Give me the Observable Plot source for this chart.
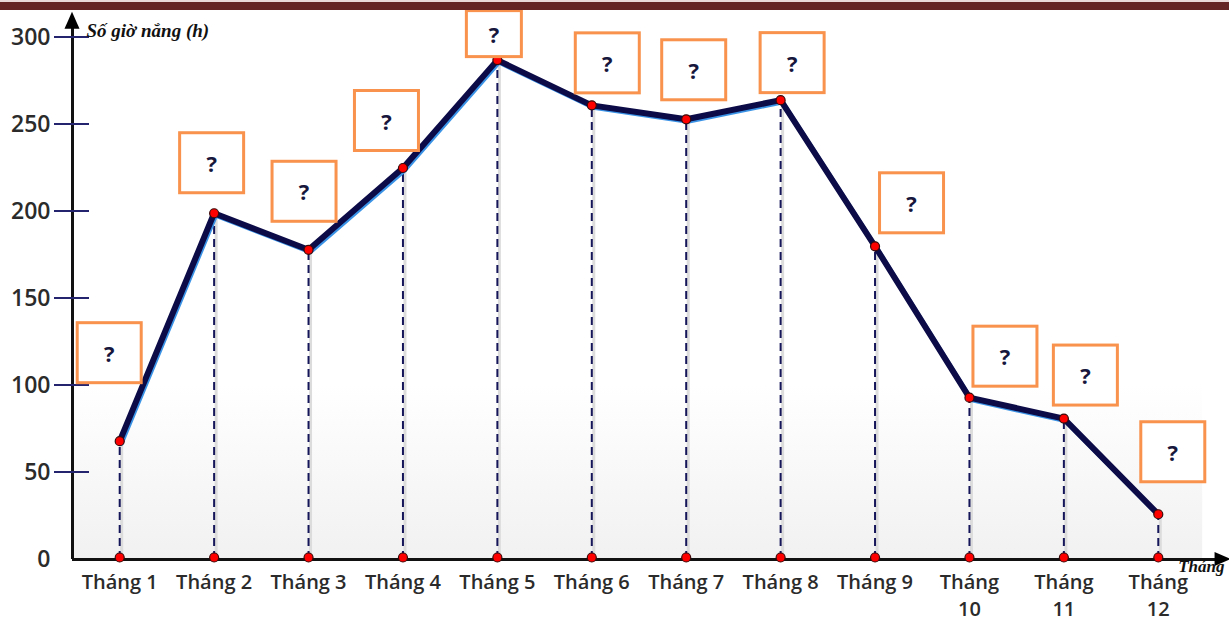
<!DOCTYPE html>
<html>
<head>
<meta charset="utf-8">
<script src="https://cdn.jsdelivr.net/npm/d3@7"></script>
<script src="https://cdn.jsdelivr.net/npm/@observablehq/plot@0.6"></script>
<style>
  html, body { margin: 0; padding: 0; background: #fff; }
  #wrap { position: relative; width: 1229px; height: 625px; overflow: hidden; }
  #band { position: absolute; left: 0; top: 0; width: 1229px; height: 8px;
          background: #632423; border-top: 2px solid #ead9d9; z-index: 2; }
  #wrap svg { position: absolute; left: 0; top: 0; }
</style>
</head>
<body>
<div id="wrap"><div id="band"></div></div>
<script>
// Monthly sunshine hours
const months = [1, 2, 3, 4, 5, 6, 7, 8, 9, 10, 11, 12];
const monthLabels = ["Tháng 1", "Tháng 2", "Tháng 3", "Tháng 4", "Tháng 5", "Tháng 6",
                     "Tháng 7", "Tháng 8", "Tháng 9", "Tháng\n10", "Tháng\n11", "Tháng\n12"];
const sunHours = [68, 199, 178, 225, 287, 261, 253, 264, 180, 93, 81, 26];
const yTicks = [0, 50, 100, 150, 200, 250, 300];
const yTitle = "Số giờ nắng (h)";
const xTitle = "Tháng";
const calloutText = "?";

// Callout boxes: centre offset from each point (px) and box size (px)
const calloutDx = [-10, -2, -4, -16, -3, 16, 8, 12, 37, 36, 22, 15];
const calloutDy = [-88, -50, -58, -47, -26, -42, -49, -37, -43, -41, -43, -62];
const calloutW = [64, 64, 64, 64, 55, 64, 64, 64, 64, 64, 64, 64];
const calloutH = [60, 60, 60, 60, 46, 60, 60, 60, 60, 60, 60, 60];

const data = months.map((m, i) => ({month: m, hours: sunHours[i]}));

const navy = "#0c0b47";
const orange = "#f8924c";

// Soft grey wash along the bottom of the plot area
const wash = (index, scales) => {
  const g = d3.create("svg:g");
  const id = "washGrad";
  const grad = g.append("defs").append("linearGradient")
    .attr("id", id).attr("x1", 0).attr("x2", 0).attr("y1", 0).attr("y2", 1);
  grad.append("stop").attr("offset", "0%").attr("stop-color", "#ffffff");
  grad.append("stop").attr("offset", "100%").attr("stop-color", "#f1f1f1");
  const x0 = scales.x(0.5), x1 = scales.x(12.47);
  const yTop = scales.y(100), yBot = scales.y(0);
  g.append("rect").attr("x", x0).attr("y", yTop)
    .attr("width", x1 - x0).attr("height", yBot - yTop)
    .attr("fill", `url(#${id})`);
  return g.node();
};

// Y tick marks crossing the vertical axis
const yTickMarks = (index, scales) => {
  const g = d3.create("svg:g");
  const x0 = scales.x(0.5);
  for (const v of yTicks.slice(1)) {
    g.append("line")
      .attr("x1", x0 - 18).attr("x2", x0 + 17)
      .attr("y1", scales.y(v)).attr("y2", scales.y(v))
      .attr("stroke", "#23236e").attr("stroke-width", 2);
  }
  return g.node();
};

// Filled arrowheads at the ends of both axes
const arrowHeads = (index, scales) => {
  const g = d3.create("svg:g").attr("fill", "#000");
  const ax = scales.x(0.5), ty = scales.y(314);
  g.append("path").attr("d", `M${ax},${ty - 1} L${ax - 7.5},${ty + 16} L${ax + 7.5},${ty + 16} Z`);
  const tx = scales.x(12.76), by = scales.y(0);
  g.append("path").attr("d", `M${tx + 1},${by} L${tx - 15},${by - 7} L${tx - 15},${by + 7} Z`);
  return g.node();
};

// Orange question boxes next to each point
const callouts = (index, scales) => {
  const g = d3.create("svg:g");
  months.forEach((m, i) => {
    const cx = scales.x(m) + calloutDx[i];
    const cy = scales.y(sunHours[i]) + calloutDy[i];
    const w = calloutW[i], h = calloutH[i];
    g.append("rect")
      .attr("x", cx - w / 2).attr("y", cy - h / 2)
      .attr("width", w).attr("height", h)
      .attr("fill", "#fff").attr("stroke", orange).attr("stroke-width", 3);
    g.append("text")
      .attr("x", cx).attr("y", cy)
      .attr("text-anchor", "middle").attr("dominant-baseline", "central")
      .attr("font-family", "'Open Sans', sans-serif").attr("font-weight", 700)
      .attr("font-size", 22).attr("fill", "#17173d")
      .text(calloutText);
  });
  return g.node();
};

const chart = Plot.plot({
  width: 1229,
  height: 625,
  marginLeft: 72,
  marginRight: 24,
  marginTop: 37,
  marginBottom: 66,
  style: {background: "transparent", overflow: "visible"},
  x: {type: "linear", domain: [0.5, 12.5]},
  y: {type: "linear", domain: [0, 300]},
  marks: [
    wash,
    // drop lines to the axis
    Plot.ruleX(data, {x: "month", y1: 0, y2: "hours", stroke: "#dcdcdc", strokeWidth: 3, dx: 2}),
    Plot.ruleX(data, {x: "month", y1: 0, y2: "hours", stroke: "#15155a", strokeWidth: 2, strokeDasharray: "8,5"}),
    // axes
    Plot.ruleY([0], {x1: 0.5, x2: 12.62, stroke: "#111", strokeWidth: 3}),
    Plot.ruleX([0.5], {y1: 0, y2: 306, stroke: "#111", strokeWidth: 3}),
    arrowHeads,
    yTickMarks,
    Plot.axisY({ticks: yTicks, tickSize: 0, tickPadding: 22, fontSize: 23, fontWeight: 600,
                fill: "#2b2b2b", fontFamily: "'Open Sans', sans-serif", label: null}),
    Plot.axisX({ticks: months, tickFormat: (d) => monthLabels[d - 1], tickSize: 0, tickPadding: 10,
                fontSize: 20, fontWeight: 600, lineHeight: 1.37, fill: "#2b2b2b",
                fontFamily: "'Open Sans', sans-serif", label: null}),
    // the series line with its blue glow
    Plot.line(data, {x: "month", y: "hours", stroke: "#3b93e6", strokeWidth: 5, dx: 1.5, dy: 2}),
    Plot.line(data, {x: "month", y: "hours", stroke: navy, strokeWidth: 6}),
    Plot.dot(data, {x: "month", y: "hours", r: 4.5, fill: "#ff0000", stroke: "#3a0a0a", strokeWidth: 1.2}),
    Plot.dot(data, {x: "month", y: () => 0, r: 4.5, fill: "#ff0000", stroke: "#3a0a0a", strokeWidth: 1.2, dy: -2}),
    callouts,
    // axis titles
    Plot.text([yTitle], {frameAnchor: "top-left", dx: 14, dy: -14, textAnchor: "start",
                         fontFamily: "'Liberation Serif', serif", fontStyle: "italic", fontWeight: 700,
                         fontSize: 19, fill: "#111"}),
    Plot.text([xTitle], {frameAnchor: "bottom-right", dx: 19, dy: 12, textAnchor: "end",
                         fontFamily: "'Liberation Serif', serif", fontStyle: "italic", fontWeight: 700,
                         fontSize: 17, fill: "#111"})
  ]
});

document.getElementById("wrap").appendChild(chart);
</script>
</body>
</html>
